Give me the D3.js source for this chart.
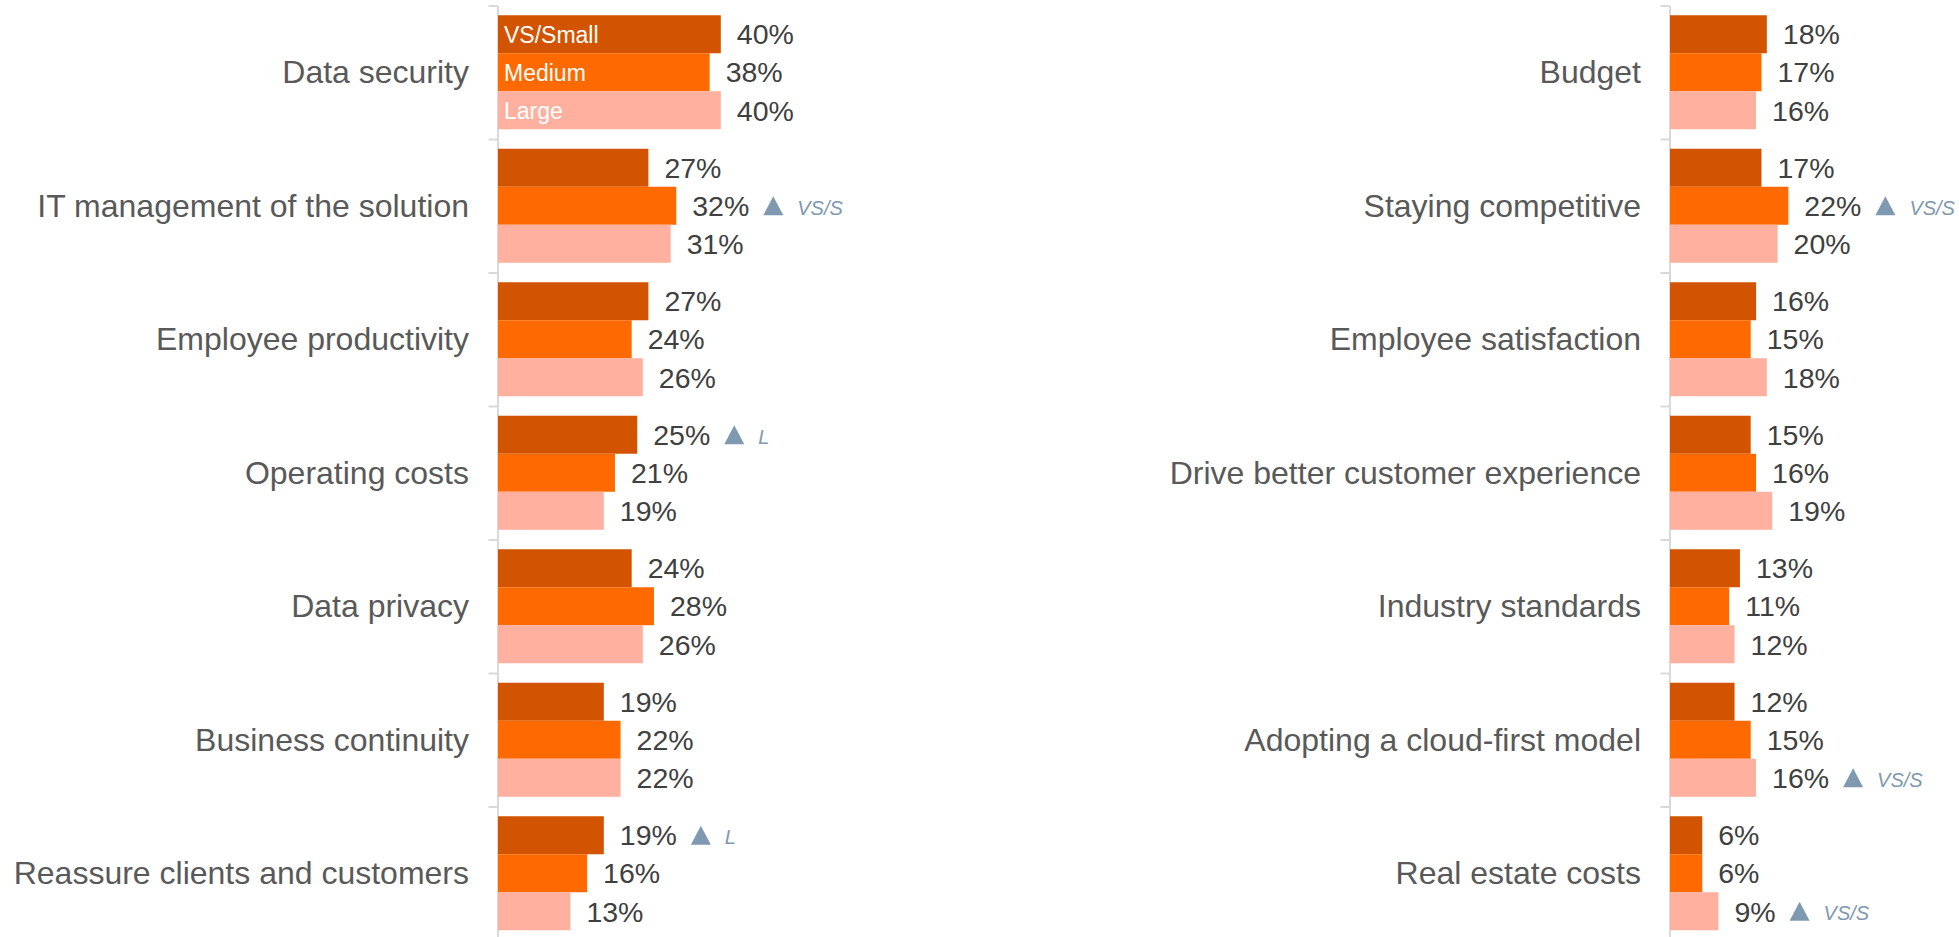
<!DOCTYPE html>
<html>
<head>
<meta charset="utf-8">
<script src="https://cdn.jsdelivr.net/npm/d3@7"></script>
<style>
  html, body { margin: 0; padding: 0; background: #ffffff; }
  svg { display: block; }
  text { font-family: "Liberation Sans", Arial, Helvetica, sans-serif; }
</style>
</head>
<body>
<svg id="chart" width="1959" height="937"></svg>
<script>
// Company-size segments (bar order within each group)
const segments = ["VS/Small", "Medium", "Large"];
const segmentColors = ["#d35400", "#ff6a00", "#ffb09f"];

// Left panel
const leftCategories = [
  "Data security",
  "IT management of the solution",
  "Employee productivity",
  "Operating costs",
  "Data privacy",
  "Business continuity",
  "Reassure clients and customers"
];
const leftSmall  = [40, 27, 27, 25, 24, 19, 19];
const leftMedium = [38, 32, 24, 21, 28, 22, 16];
const leftLarge  = [40, 31, 26, 19, 26, 22, 13];
// Significance flags: [category index, segment index, compared-against label]
const leftFlags = [[1, 1, "VS/S"], [3, 0, "L"], [6, 0, "L"]];

// Right panel
const rightCategories = [
  "Budget",
  "Staying competitive",
  "Employee satisfaction",
  "Drive better customer experience",
  "Industry standards",
  "Adopting a cloud-first model",
  "Real estate costs"
];
const rightSmall  = [18, 17, 16, 15, 13, 12, 6];
const rightMedium = [17, 22, 15, 16, 11, 15, 6];
const rightLarge  = [16, 20, 18, 19, 12, 16, 9];
const rightFlags = [[1, 1, "VS/S"], [5, 2, "VS/S"], [6, 2, "VS/S"]];

const svg = d3.select("#chart");

const plotTop = 5.5, groupStep = 133.5;
const valueFont = 28.5;

function drawPanel(cfg) {
  const { categories, series, flags, axisX, pxPerPct, showSegmentNames } = cfg;
  const n = categories.length;

  const y = d3.scaleBand()
    .domain(categories)
    .range([plotTop, plotTop + n * groupStep])
    .paddingInner(0.146)
    .paddingOuter(0.073);

  const ySub = d3.scaleBand()
    .domain(segments)
    .range([0, y.bandwidth()]);

  const x = d3.scaleLinear()
    .domain([0, 100])
    .range([axisX, axisX + 100 * pxPerPct]);

  const g = svg.append("g");

  // Axis line with tick marks at group boundaries
  const boundary = d3.scaleLinear().domain([0, n]).range([plotTop, plotTop + n * groupStep]);
  const axis = g.append("g")
    .attr("transform", `translate(${axisX - 0.5},0)`)
    .call(d3.axisLeft(boundary)
      .tickValues(d3.range(n + 1))
      .tickFormat("")
      .tickSize(9)
      .tickSizeOuter(0));
  axis.select(".domain").attr("stroke", "#d9d9d9").attr("stroke-width", 2);
  axis.selectAll(".tick line").attr("stroke", "#d9d9d9").attr("stroke-width", 2);

  // Category labels
  g.selectAll("text.cat")
    .data(categories)
    .join("text")
    .attr("class", "cat")
    .attr("x", axisX - 29)
    .attr("y", d => y(d) + y.bandwidth() / 2)
    .attr("dy", "0.35em")
    .attr("text-anchor", "end")
    .attr("font-size", 32)
    .attr("fill", "#595959")
    .text(d => d);

  // Flattened bar records
  const rows = [];
  categories.forEach((c, i) => {
    segments.forEach((s, j) => {
      rows.push({ cat: c, ci: i, seg: s, si: j, value: series[j][i] });
    });
  });

  const groups = g.selectAll("g.group")
    .data(categories)
    .join("g")
    .attr("class", "group")
    .attr("transform", d => `translate(0,${y(d)})`);

  groups.selectAll("rect")
    .data(c => rows.filter(r => r.cat === c))
    .join("rect")
    .attr("x", x(0))
    .attr("y", d => ySub(d.seg))
    .attr("width", d => x(d.value) - x(0))
    .attr("height", ySub.bandwidth())
    .attr("fill", d => segmentColors[d.si]);

  // Value labels
  groups.selectAll("text.val")
    .data(c => rows.filter(r => r.cat === c))
    .join("text")
    .attr("class", "val")
    .attr("x", d => x(d.value) + 16)
    .attr("y", d => ySub(d.seg) + ySub.bandwidth() / 2)
    .attr("dy", "0.36em")
    .attr("font-size", valueFont)
    .attr("fill", "#404040")
    .text(d => d.value + "%");

  // Segment names inside the first group's bars
  if (showSegmentNames) {
    const first = categories[0];
    g.append("g")
      .attr("transform", `translate(0,${y(first)})`)
      .selectAll("text")
      .data(segments)
      .join("text")
      .attr("x", x(0) + 6)
      .attr("y", d => ySub(d) + ySub.bandwidth() / 2)
      .attr("dy", "0.36em")
      .attr("font-size", 23)
      .attr("fill", "#ffffff")
      .text(d => d);
  }

  // Significance markers: triangle + comparison segment
  const triW = 20, triH = 19;
  flags.forEach(([ci, si, note]) => {
    const c = categories[ci];
    const v = series[si][ci];
    const cy = y(c) + ySub(segments[si]) + ySub.bandwidth() / 2;
    const labelW = (String(v).length * 0.556 + 0.889) * valueFont;
    const tx = x(v) + 16 + labelW + 14;
    g.append("path")
      .attr("d", `M${tx},${cy + triH / 2} L${tx + triW / 2},${cy - triH / 2} L${tx + triW},${cy + triH / 2} Z`)
      .attr("fill", "#7f99b0");
    g.append("text")
      .attr("x", tx + triW + 14)
      .attr("y", cy + 9)
      .attr("font-size", 20)
      .attr("font-style", "italic")
      .attr("fill", "#7f99b0")
      .text(note);
  });
}

drawPanel({
  categories: leftCategories,
  series: [leftSmall, leftMedium, leftLarge],
  flags: leftFlags,
  axisX: 498,
  pxPerPct: 5.57,
  showSegmentNames: true
});

drawPanel({
  categories: rightCategories,
  series: [rightSmall, rightMedium, rightLarge],
  flags: rightFlags,
  axisX: 1670,
  pxPerPct: 5.38,
  showSegmentNames: false
});
</script>
</body>
</html>
